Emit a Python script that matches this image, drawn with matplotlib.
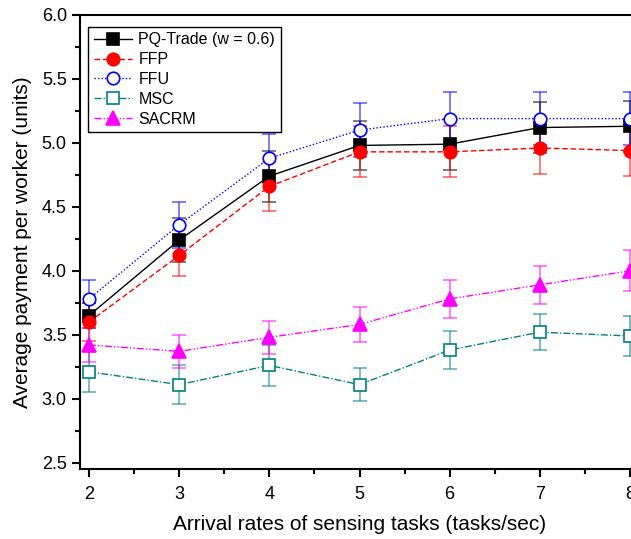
import matplotlib
matplotlib.use("Agg")
import matplotlib.pyplot as plt
from matplotlib.ticker import MultipleLocator

plt.rcParams['font.family'] = ['Liberation Sans', 'DejaVu Sans']

x = [2, 3, 4, 5, 6, 7, 8]
pq = [3.65, 4.24, 4.74, 4.98, 4.99, 5.12, 5.13]
pq_err = [0.10, 0.17, 0.20, 0.19, 0.20, 0.20, 0.20]
ffp = [3.60, 4.12, 4.66, 4.93, 4.93, 4.96, 4.94]
ffp_err = [0.15, 0.16, 0.19, 0.20, 0.20, 0.20, 0.20]
ffu = [3.78, 4.36, 4.88, 5.10, 5.19, 5.19, 5.19]
ffu_err = [0.15, 0.18, 0.19, 0.21, 0.21, 0.21, 0.21]
msc = [3.21, 3.11, 3.26, 3.11, 3.38, 3.52, 3.49]
msc_err = [0.16, 0.15, 0.16, 0.13, 0.15, 0.14, 0.155]
sacrm = [3.42, 3.37, 3.48, 3.58, 3.78, 3.89, 4.00]
sacrm_err = [0.13, 0.13, 0.13, 0.14, 0.15, 0.15, 0.16]

labels = ['PQ-Trade (w = 0.6)', 'FFP', 'FFU', 'MSC', 'SACRM']

fig = plt.figure(figsize=(6.31, 5.39), dpi=100)
ax = fig.add_axes([80/631, 1 - 469/539, 559/631, 454/539])

specs = [
    (pq, pq_err, 'black', '-', 's', 'black', 8),
    (ffp, ffp_err, 'red', (0, (4, 2)), 'o', 'red', 9),
    (ffu, ffu_err, 'blue', (0, (1, 1.5)), 'o', 'white', 9),
    (msc, msc_err, '#008080', (0, (5, 1.5, 1, 1.5)), 's', 'white', 8),
    (sacrm, sacrm_err, '#ff00ff', (0, (5, 1.5, 1, 1.5, 1, 1.5)), '^', '#ff00ff', 10),
]

handles = []
for (y, e, c, ls, m, fc, ms), lab in zip(specs, labels):
    ax.errorbar(x, y, yerr=e, fmt='none', ecolor=c, alpha=0.55,
                elinewidth=1.3, capsize=5, capthick=1.3, zorder=2)
    h, = ax.plot(x, y, color=c, linestyle=ls, linewidth=1.0, marker=m,
                 markersize=ms, markerfacecolor=fc, markeredgecolor=c,
                 markeredgewidth=1.2, label=lab, zorder=3)
    handles.append(h)

ax.set_xlim(1.9, 8.1)
ax.set_ylim(2.45, 6.0)
ax.xaxis.set_major_locator(MultipleLocator(1))
ax.xaxis.set_minor_locator(MultipleLocator(0.5))
ax.yaxis.set_major_locator(MultipleLocator(0.5))
ax.yaxis.set_minor_locator(MultipleLocator(0.25))
ax.yaxis.set_major_formatter(matplotlib.ticker.FormatStrFormatter('%.1f'))
ax.tick_params(which='major', direction='out', length=6, width=1.5, labelsize=13)
ax.tick_params(axis='x', which='major', pad=6)
ax.tick_params(which='minor', direction='out', length=3.5, width=1.5)
for s in ax.spines.values():
    s.set_linewidth(1.5)

ax.set_xlabel('Arrival rates of sensing tasks (tasks/sec)', fontsize=15, labelpad=9)
ax.set_ylabel('Average payment per worker (units)', fontsize=15, labelpad=7)

leg = ax.legend(handles=handles, loc='upper left', fontsize=11.5, frameon=True,
                fancybox=False, edgecolor='black', framealpha=1,
                handlelength=2.4, handletextpad=0.4, borderpad=0.35,
                labelspacing=0.3, borderaxespad=0,
                bbox_to_anchor=(0.0145, 0.974))
leg.get_frame().set_linewidth(1.0)

fig.savefig('out.png', dpi=100)
